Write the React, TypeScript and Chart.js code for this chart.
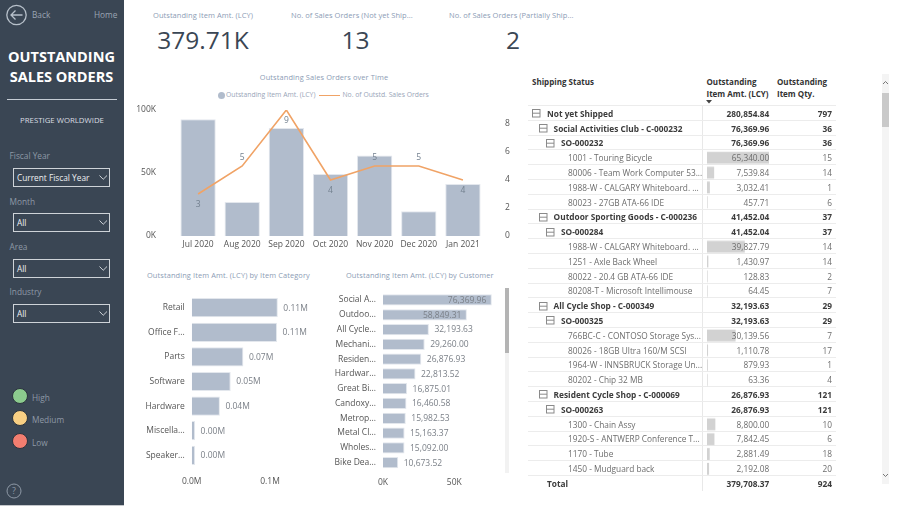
import React, { useEffect, useRef } from "react";
import { Chart, registerables } from "chart.js";

Chart.register(...registerables);

const months = ["Jul 2020", "Aug 2020", "Sep 2020", "Oct 2020", "Nov 2020", "Dec 2020", "Jan 2021"];
const monthAmounts = [92600, 27000, 85700, 49200, 63800, 19600, 41300];
const monthOrders = [3, 5, 9, 4, 5, 5, 4];
const orderLabelAbove = [false, true, false, false, true, true, false];
const amountTicks = [0, 50000, 100000];
const orderTicks = [0, 2, 4, 6, 8];

const categories = ["Retail", "Office F...", "Parts", "Software", "Hardware", "Miscella...", "Speaker..."];
const categoryAmounts = [110000, 109000, 66000, 49800, 36000, 4300, 4300];
const categoryTicks = [0, 100000];

const customers = ["Social A...", "Outdoo...", "All Cycle...", "Mechani...", "Residen...", "Hardwar...", "Great Bi...", "Candoxy...", "Metrop...", "Metal Cl...", "Wholes...", "Bike Dea..."];
const customerAmounts = [76369.96, 58849.31, 32193.63, 29260.0, 26876.93, 22813.52, 16875.01, 16460.58, 15982.53, 15163.37, 15092.0, 10673.52];
const customerTicks = [0, 50000];

const rowLabels = [
  "Not yet Shipped",
  "Social Activities Club - C-000232", "SO-000232", "1001 - Touring Bicycle", "80006 - Team Work Computer 53...", "1988-W - CALGARY Whiteboard. ...", "80023 - 27GB ATA-66 IDE",
  "Outdoor Sporting Goods - C-000236", "SO-000284", "1988-W - CALGARY Whiteboard. ...", "1251 - Axle Back Wheel", "80022 - 20.4 GB ATA-66 IDE", "80208-T - Microsoft Intellimouse",
  "All Cycle Shop - C-000349", "SO-000325", "766BC-C - CONTOSO Storage Sys...", "80026 - 18GB Ultra 160/M SCSI", "1964-W - INNSBRUCK Storage Un...", "80202 - Chip 32 MB",
  "Resident Cycle Shop - C-000069", "SO-000263", "1300 - Chain Assy", "1920-S - ANTWERP Conference T...", "1170 - Tube", "1450 - Mudguard back",
  "Total",
];
const rowLevels = [0, 1, 2, 3, 3, 3, 3, 1, 2, 3, 3, 3, 3, 1, 2, 3, 3, 3, 3, 1, 2, 3, 3, 3, 3, 4];
const rowAmounts = [
  280854.84, 76369.96, 76369.96, 65340.0, 7539.84, 3032.41, 457.71,
  41452.04, 41452.04, 39827.79, 1430.97, 128.83, 64.45,
  32193.63, 32193.63, 30139.56, 1110.78, 879.93, 63.36,
  26876.93, 26876.93, 8800.0, 7842.45, 2881.49, 2192.08,
  379708.37,
];
const rowQuantities = [797, 36, 36, 15, 14, 1, 6, 37, 37, 14, 14, 2, 7, 29, 29, 7, 17, 1, 4, 121, 121, 10, 6, 18, 20, 924];

const kpis = [
  { title: "Outstanding Item Amt. (LCY)", value: "379.71K" },
  { title: "No. of Sales Orders (Not yet Ship...", value: "13" },
  { title: "No. of Sales Orders (Partially Ship...", value: "2" },
];
const slicers = [
  { label: "Fiscal Year", value: "Current Fiscal Year" },
  { label: "Month", value: "All" },
  { label: "Area", value: "All" },
  { label: "Industry", value: "All" },
];
const priorities = [
  { label: "High", color: "#8ccb8e" },
  { label: "Medium", color: "#f8cf83" },
  { label: "Low", color: "#f37e70" },
];

const FONT = "'Open Sans', 'Noto Sans', sans-serif";
const BAR = "#b1bccc";
const BAR_EDGE = "#e3e7ed";
const TITLE = "#8c9cb5";
const SIDE = "#3a4654";
const fmt2 = (v: number) => v.toLocaleString("en-US", { minimumFractionDigits: 2, maximumFractionDigits: 2 });

const tickFont = { family: "'Open Sans', sans-serif", size: 8.5 };
const noGrid = { display: false, drawTicks: false };

function fixed(w?: number, h?: number) {
  return (s: any) => {
    if (w !== undefined) s.width = w;
    if (h !== undefined) s.height = h;
    s.paddingTop = 0;
    s.paddingBottom = 0;
    s.paddingLeft = 0;
    s.paddingRight = 0;
  };
}
const setTicks = (vals: number[]) => (s: any) => {
  s.ticks = vals.map((value) => ({ value }));
};

function T({ x, y, children, color = "#555", size = 8.3, weight = 400, align = "left", spacing = 0 }: any) {
  const style: React.CSSProperties = {
    position: "absolute",
    top: y - 10,
    height: 20,
    lineHeight: "20px",
    fontSize: size,
    fontWeight: weight,
    color,
    whiteSpace: "nowrap",
    letterSpacing: spacing,
    textAlign: align,
  };
  if (align === "right") {
    style.left = x - 200;
    style.width = 200;
  } else if (align === "center") {
    style.left = x - 150;
    style.width = 300;
  } else {
    style.left = x;
  }
  return <div style={style}>{children}</div>;
}

function useChart(make: (c: HTMLCanvasElement) => Chart) {
  const ref = useRef<HTMLCanvasElement>(null);
  useEffect(() => {
    const chart = make(ref.current!);
    return () => chart.destroy();
  }, []);
  return ref;
}

function Cv({ r, left, top, width, height }: any) {
  return (
    <div style={{ position: "absolute", left, top, width, height }}>
      <canvas ref={r} width={width} height={height} style={{ display: "block", width, height }} />
    </div>
  );
}

function ComboChart() {
  const ref = useChart((c) =>
    new Chart(c, {
      type: "bar",
      data: {
        labels: months,
        datasets: [
          { type: "line", label: "No. of Outstd. Sales Orders", data: monthOrders, yAxisID: "y2", borderColor: "#f0a366", borderWidth: 1.6, pointRadius: 0, tension: 0, order: 0 },
          { type: "bar", label: "Outstanding Item Amt. (LCY)", data: monthAmounts, yAxisID: "y", backgroundColor: BAR, borderColor: BAR_EDGE, borderWidth: 1, barPercentage: 0.8, categoryPercentage: 1, order: 1 },
        ],
      } as any,
      options: {
        animation: false,
        responsive: false,
        layout: { padding: { top: 10, right: 0, bottom: 0, left: 0 } },
        plugins: { legend: { display: false }, title: { display: false }, tooltip: { enabled: false } },
        scales: {
          x: { grid: noGrid, border: { display: false }, ticks: { font: tickFont, color: "#555", padding: 3, maxRotation: 0, autoSkip: false }, afterFit: fixed(undefined, 24) },
          y: { min: 0, max: 100000, grid: noGrid, border: { display: false }, ticks: { font: tickFont, color: "#555", padding: 20, callback: (v: any) => Number(v) / 1000 + "K" }, afterBuildTicks: setTicks(amountTicks), afterFit: fixed(52) },
          y2: { position: "right", min: 0, max: 9, grid: noGrid, border: { display: false }, ticks: { font: tickFont, color: "#555", padding: 20 }, afterBuildTicks: setTicks(orderTicks), afterFit: fixed(39) },
        },
      } as any,
      plugins: [
        {
          id: "orderLabels",
          afterDatasetsDraw(chart: any) {
            const { ctx, scales } = chart;
            ctx.save();
            ctx.font = "8.5px 'Open Sans', sans-serif";
            ctx.fillStyle = "#73808f";
            ctx.textAlign = "center";
            ctx.textBaseline = "middle";
            monthOrders.forEach((v, i) => {
              const px = scales.x.getPixelForValue(i);
              const py = scales.y2.getPixelForValue(v);
              ctx.fillText(String(v), px, py + (orderLabelAbove[i] ? -8.5 : 10.5));
            });
            ctx.restore();
          },
        },
      ],
    })
  );
  return <Cv r={ref} left={124} top={100} width={400} height={160} />;
}

function hBar(labels: string[], values: number[], max: number, ticks: number[], tick: (v: number) => string, label: (v: number) => string, m: any) {
  return (c: HTMLCanvasElement) =>
    new Chart(c, {
      type: "bar",
      data: {
        labels,
        datasets: [{ data: values, backgroundColor: BAR, borderColor: BAR_EDGE, borderWidth: 1, barPercentage: m.bar, categoryPercentage: 1 }],
      },
      options: {
        animation: false,
        responsive: false,
        indexAxis: "y",
        layout: { padding: { top: m.top, right: m.right, bottom: 0, left: 0 } },
        plugins: { legend: { display: false }, title: { display: false }, tooltip: { enabled: false } },
        scales: {
          x: { min: 0, max, grid: noGrid, border: { display: false }, ticks: { font: tickFont, color: "#555", padding: m.xPad, maxRotation: 0, callback: (v: any) => tick(Number(v)) }, afterBuildTicks: setTicks(ticks), afterFit: fixed(undefined, m.axisH) },
          y: { grid: noGrid, border: { display: false }, ticks: { font: tickFont, color: "#555", padding: m.yPad, autoSkip: false }, afterFit: fixed(m.axisW) },
        },
      } as any,
      plugins: [
        {
          id: "valueLabels",
          afterDatasetsDraw(chart: any) {
            const { ctx, scales } = chart;
            ctx.save();
            ctx.font = "8.5px 'Open Sans', sans-serif";
            ctx.fillStyle = "#7b8088";
            ctx.textBaseline = "middle";
            values.forEach((v, i) => {
              const px = scales.x.getPixelForValue(v);
              const py = scales.y.getPixelForValue(i);
              const inside = v > max * 0.6 && m.insideBig;
              ctx.textAlign = inside ? "right" : "left";
              ctx.fillText(label(v), px + (inside ? -5.5 : 5.5), py + 0.5);
            });
            ctx.restore();
          },
        },
      ],
    });
}

function CategoryChart() {
  const ref = useChart(
    hBar(categories, categoryAmounts, 130000, categoryTicks, (v) => (v / 1000000).toFixed(1) + "M", (v) => (v / 1000000).toFixed(2) + "M", {
      bar: 0.78, top: 10.4, right: 36.5, xPad: 9, yPad: 7, axisH: 22.4, axisW: 61.7, insideBig: false,
    })
  );
  return <Cv r={ref} left={130} top={285} width={200} height={205} />;
}

function CustomerChart() {
  const ref = useChart(
    hBar(customers, customerAmounts, 80000, customerTicks, (v) => v / 1000 + "K", fmt2, {
      bar: 0.76, top: 9.6, right: 13, xPad: 7, yPad: 7, axisH: 20, axisW: 53, insideBig: true,
    })
  );
  return <Cv r={ref} left={330} top={283} width={180} height={207} />;
}

function RowBars() {
  const ref = useChart((c) =>
    new Chart(c, {
      type: "bar",
      data: {
        labels: rowLabels,
        datasets: [{ data: rowAmounts.map((v, i) => (rowLevels[i] === 3 ? v : null)), backgroundColor: "#d2d2d2", barPercentage: 0.8, categoryPercentage: 1, minBarLength: 0.6 }],
      },
      options: {
        animation: false,
        responsive: false,
        indexAxis: "y",
        layout: { padding: 0 },
        plugins: { legend: { display: false }, tooltip: { enabled: false } },
        scales: {
          x: { display: false, min: 0, max: 65340 },
          y: { display: false },
        },
      } as any,
    })
  );
  return <Cv r={ref} left={706.7} top={106.3} width={62.6} height={384.8} />;
}

function MinusBox({ x, y }: { x: number; y: number }) {
  return (
    <svg style={{ position: "absolute", left: x - 4.5, top: y - 4.5 }} width={9} height={9}>
      <rect x={0.5} y={0.5} width={7.5} height={7.5} fill="none" stroke="#8a8a8a" />
      <line x1={0.5} x2={8} y1={4.2} y2={4.2} stroke="#8a8a8a" />
    </svg>
  );
}

function Matrix() {
  const ROW = 14.8;
  const y0 = 113.7;
  const textX = [547, 553.6, 561, 568, 547];
  const iconX = [536, 543, 550.5];
  return (
    <>
      <T x={532} y={82} weight={700} color="#333" size={8}>Shipping Status</T>
      <T x={706.5} y={82} weight={700} color="#333" size={8}>Outstanding</T>
      <T x={706.5} y={94} weight={700} color="#333" size={8}>Item Amt. (LCY)</T>
      <T x={777} y={82} weight={700} color="#333" size={8}>Outstanding</T>
      <T x={777} y={94} weight={700} color="#333" size={8}>Item Qty.</T>
      <svg style={{ position: "absolute", left: 706, top: 99.5 }} width={7} height={5}>
        <path d="M0 0 L6 0 L3 3.5 Z" fill="#444" />
      </svg>
      <div style={{ position: "absolute", left: 702, top: 105, width: 1, height: 386, background: "#e8e8e8" }} />
      {rowLabels.map((_, i) => (
        <div key={i} style={{ position: "absolute", left: 528, width: 308, top: Math.round(105 + ROW * i), height: 1, background: "#ececec" }} />
      ))}
      <RowBars />
      {rowLabels.map((label, i) => {
        const level = rowLevels[i];
        const y = y0 + ROW * i;
        const strong = level !== 3;
        const color = strong ? "#3c3c3c" : "#6d6d6d";
        const w = strong ? 700 : 400;
        return (
          <React.Fragment key={i}>
            {level < 3 && <MinusBox x={iconX[level]} y={y} />}
            <T x={textX[level]} y={y} color={color} weight={w}>{label}</T>
            <T x={769.3} y={y} align="right" color={color} weight={w}>{fmt2(rowAmounts[i])}</T>
            <T x={832} y={y} align="right" color={color} weight={w}>{rowQuantities[i]}</T>
          </React.Fragment>
        );
      })}
      <div style={{ position: "absolute", left: 882, top: 74, width: 6.5, height: 410, background: "#f4f4f4" }} />
      <div style={{ position: "absolute", left: 882, top: 93, width: 6.5, height: 34, background: "#c9c9c9" }} />
      <svg style={{ position: "absolute", left: 882, top: 80 }} width={7} height={5}>
        <path d="M1 4 L3.5 1.5 L6 4" fill="none" stroke="#777" />
      </svg>
      <svg style={{ position: "absolute", left: 882, top: 473 }} width={7} height={5}>
        <path d="M1 1 L3.5 3.5 L6 1" fill="none" stroke="#777" />
      </svg>
    </>
  );
}

function Sidebar() {
  const labelYs = [156, 201.5, 247, 292];
  const boxYs = [168, 213, 259, 304];
  const dotYs = [395.7, 418.3, 440.7];
  return (
    <>
      <div style={{ position: "absolute", left: 0, top: 0, width: 124, height: 505, background: SIDE }} />
      <div style={{ position: "absolute", left: 0, top: 505, width: 124, height: 1, background: "#c4c7cb" }} />
      <svg style={{ position: "absolute", left: 0, top: 0 }} width={124} height={30}>
        <circle cx={16.5} cy={15} r={9.7} fill="none" stroke="#b7c0ca" strokeWidth={1.3} />
        <path d="M22.5 15 H11 M15.5 10.5 L11 15 L15.5 19.5" fill="none" stroke="#b7c0ca" strokeWidth={1.3} />
      </svg>
      <T x={32} y={15} color="#9aa5b3">Back</T>
      <T x={94} y={15} color="#9aa5b3">Home</T>
      <T x={61.5} y={57} align="center" color="#fff" weight={700} size={14.5}>OUTSTANDING</T>
      <T x={61.5} y={77} align="center" color="#fff" weight={700} size={14.5}>SALES ORDERS</T>
      <div style={{ position: "absolute", left: 7, top: 99, width: 110, height: 1.2, background: "#c5ccd4" }} />
      <T x={62} y={120} align="center" color="#d9dde1" size={7.8}>PRESTIGE WORLDWIDE</T>
      {slicers.map((s, i) => (
        <React.Fragment key={s.label}>
          <T x={9.5} y={labelYs[i]} color="#8e99a6">{s.label}</T>
          <div style={{ position: "absolute", left: 13, top: boxYs[i], width: 97, height: 19, boxSizing: "border-box", border: "1px solid #ced3d8" }} />
          <T x={17} y={boxYs[i] + 10} color="#eef0f2">{s.value}</T>
          <svg style={{ position: "absolute", left: 99, top: boxYs[i] + 7 }} width={9} height={6}>
            <path d="M0.5 0.5 L4.2 4.3 L8 0.5" fill="none" stroke="#ced3d8" />
          </svg>
        </React.Fragment>
      ))}
      {priorities.map((p, i) => (
        <React.Fragment key={p.label}>
          <div style={{ position: "absolute", left: 11.5, top: dotYs[i] - 8, width: 16, height: 16, boxSizing: "border-box", borderRadius: "50%", background: p.color, border: "1px solid #2b333d" }} />
          <T x={32} y={dotYs[i] + 2} color="#8e99a6">{p.label}</T>
        </React.Fragment>
      ))}
      <svg style={{ position: "absolute", left: 5, top: 482 }} width={18} height={18}>
        <circle cx={9} cy={9} r={7} fill="none" stroke="#8e99a6" />
      </svg>
      <T x={14} y={491} align="center" color="#8e99a6" size={9}>?</T>
    </>
  );
}

export default function App() {
  const kpiTitleX = [153, 291, 449];
  const kpiCenter = [203, 355.6, 513];
  return (
    <div style={{ position: "fixed", left: 0, top: 0, width: 900, height: 514, overflow: "hidden", background: "#fff", fontFamily: FONT }}>
      <Sidebar />
      {kpis.map((k, i) => (
        <React.Fragment key={k.title}>
          <T x={kpiTitleX[i]} y={14.5} color={TITLE} size={7.5} spacing={0.05}>{k.title}</T>
          <T x={kpiCenter[i]} y={40} align="center" color={SIDE} size={24.5}>{k.value}</T>
        </React.Fragment>
      ))}
      <T x={324} y={77} align="center" color={TITLE} size={7.4} spacing={0.12}>Outstanding Sales Orders over Time</T>
      <div style={{ position: "absolute", left: 218, top: 91.5, width: 7, height: 7, borderRadius: "50%", background: BAR }} />
      <T x={226} y={95} color="#99a5b8" size={6.8}>Outstanding Item Amt. (LCY)</T>
      <div style={{ position: "absolute", left: 319, top: 94.5, width: 21, height: 1.5, background: "#f0a366" }} />
      <T x={342.5} y={95} color="#99a5b8" size={6.8}>No. of Outstd. Sales Orders</T>
      <ComboChart />
      <T x={147} y={274.5} color={TITLE} size={7.4} spacing={0.12}>Outstanding Item Amt. (LCY) by Item Category</T>
      <T x={346} y={274.5} color={TITLE} size={7.4} spacing={0.12}>Outstanding Item Amt. (LCY) by Customer</T>
      <CategoryChart />
      <CustomerChart />
      <div style={{ position: "absolute", left: 504.5, top: 288, width: 4.5, height: 185, background: "#f2f2f2" }} />
      <div style={{ position: "absolute", left: 504.5, top: 288, width: 4.5, height: 65, background: "#b4b4b4" }} />
      <Matrix />
    </div>
  );
}
